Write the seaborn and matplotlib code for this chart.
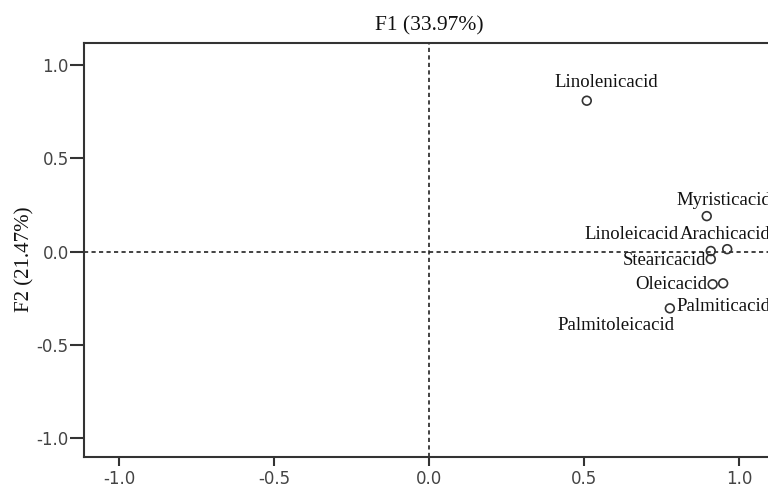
import numpy as np
import pandas as pd
import matplotlib
matplotlib.use("Agg")
import matplotlib.pyplot as plt
import seaborn as sns

# loadings on F1 / F2
acids = ['Linolenicacid', 'Myristicacid', 'Arachicacid', 'Linoleicacid',
         'Stearicacid', 'Oleicacid', 'Palmiticacid', 'Palmitoleicacid']
f1 = [0.509, 0.896, 0.962, 0.909, 0.909, 0.915, 0.949, 0.777]
f2 = [0.808, 0.190, 0.013, 0.003, -0.040, -0.175, -0.170, -0.304]
ticks = [-1.0, -0.5, 0.0, 0.5, 1.0]

df = pd.DataFrame({'acid': acids, 'F1': f1, 'F2': f2})

# label placement (pixel offsets from the point, alignment)
label_pos = {
    'Linolenicacid': (19, 18, 'center'),
    'Myristicacid': (-30, 16, 'left'),
    'Arachicacid': (-47, 15, 'left'),
    'Linoleicacid': (-32, 17, 'right'),
    'Stearicacid': (-5, -1, 'right'),
    'Oleicacid': (-5, 0, 'right'),
    'Palmiticacid': (-47, -23, 'left'),
    'Palmitoleicacid': (5, -17, 'right'),
}

sns.set_style('white')
plt.rcParams['font.family'] = ['DejaVu Sans']

fig = plt.figure(figsize=(7.68, 4.88), dpi=100)
ax = fig.add_axes([84 / 768, 31 / 488, 690 / 768, 414 / 488])

ax.axhline(0, color='#222222', lw=1.2, ls=(0, (2.5, 2)), zorder=1)
ax.axvline(0, color='#222222', lw=1.2, ls=(0, (2.5, 2)), zorder=1)

sns.scatterplot(data=df, x='F1', y='F2', ax=ax, marker='o', s=40,
                facecolors='none', edgecolor='#333333', linewidth=1.2, zorder=3)

for _, r in df.iterrows():
    dx, dy, ha = label_pos[r['acid']]
    ax.annotate(r['acid'], (r['F1'], r['F2']), xytext=(dx, dy),
                textcoords='offset pixels', ha=ha, va='center',
                fontsize=13.5, family='Liberation Serif', color='#111111')

ax.set_xlim(-1.113, 1.113)
ax.set_ylim(-1.10, 1.117)
ax.set_xticks(ticks)
ax.set_yticks(ticks)
ax.set_xticklabels([f'{t:.1f}' for t in ticks])
ax.set_yticklabels([f'{t:.1f}' for t in ticks])
ax.tick_params(direction='out', width=1.5, color='#333333',
               labelsize=12, labelcolor='#444444', bottom=True, left=True)
ax.tick_params(axis='x', length=6.5, pad=3)
ax.tick_params(axis='y', length=10, pad=1)
for s in ax.spines.values():
    s.set_color('#333333')
    s.set_linewidth(1.5)

ax.set_xlabel('')
ax.set_ylabel('F2 (21.47%)', fontsize=15, family='Liberation Serif', color='#111111')
ax.yaxis.set_label_coords(-0.072, 0.478)
ax.set_title('F1 (33.97%)', fontsize=15.5, family='Liberation Serif',
             color='#111111', pad=9)

fig.savefig('out.png', dpi=100)
